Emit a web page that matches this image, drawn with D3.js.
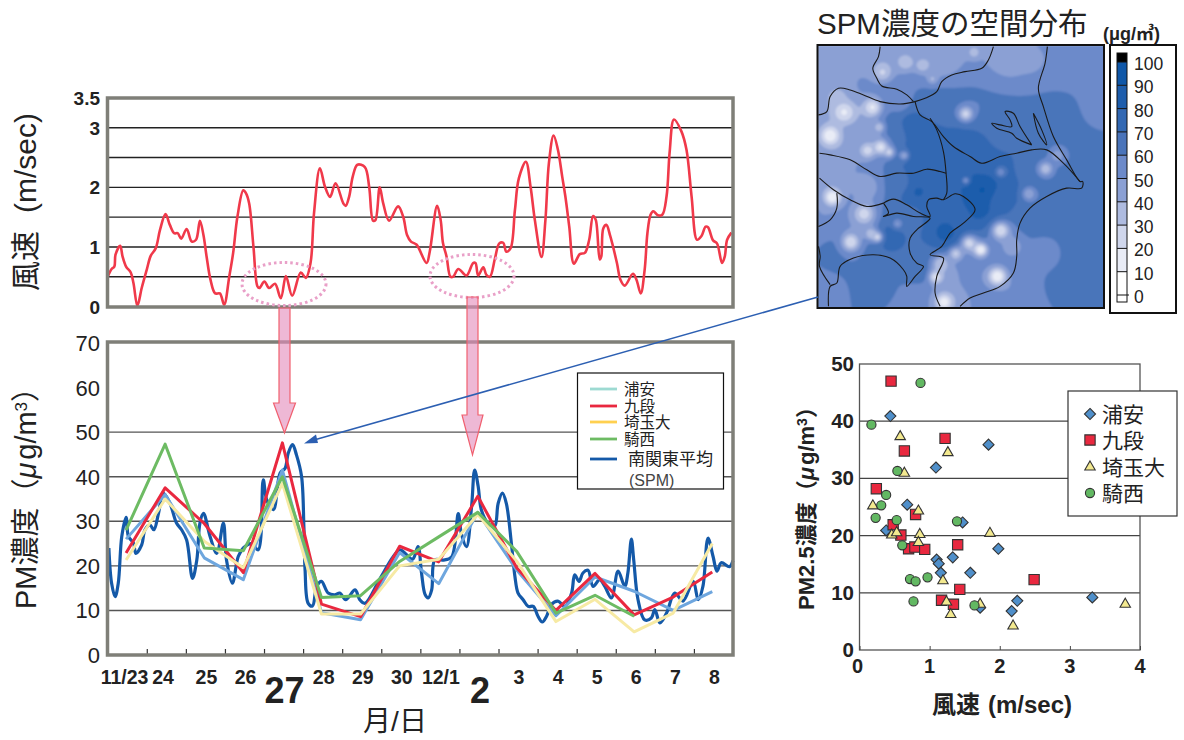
<!DOCTYPE html>
<html><head><meta charset="utf-8">
<script src="https://cdn.jsdelivr.net/npm/d3@7"></script>
<style>
html,body{margin:0;padding:0;background:#fff}
text{font-family:"Liberation Sans","Noto Sans CJK JP",sans-serif;fill:#222}
</style></head><body><svg id="c" width="1184" height="740"></svg>
<script>
// ---------- data ----------
const windYTicks=[0,1,2,3,3.5];
const windGrid=[0.5,1,1.5,2,2.5,3];
const windSpeed=[[0,.5],[.1,.63],[.17,.67],[.2,.87],[.32,1.02],[.38,.84],[.47,.67],[.59,.57],[.66,.39],[.76,.01],[.87,.31],[1,.62],[1.1,.85],[1.23,.98],[1.34,1.29],[1.48,1.55],[1.59,1.37],[1.7,1.23],[1.79,1.23],[1.88,1.14],[2.02,1.3],[2.15,1.09],[2.26,1.12],[2.36,1.44],[2.45,1.2],[2.53,.84],[2.63,.45],[2.75,.22],[2.87,.22],[2.98,.03],[3.11,.5],[3.21,.9],[3.32,1.51],[3.47,1.95],[3.54,1.9],[3.62,1.73],[3.73,1],[3.83,.34],[3.88,.31],[4.01,.42],[4.13,.31],[4.28,.38],[4.43,.14],[4.56,.51],[4.72,.18],[4.94,.57],[5.07,.48],[5.19,.73],[5.28,1.57],[5.43,2.32],[5.56,2.01],[5.69,1.84],[5.83,2.07],[6.03,1.73],[6.09,1.69],[6.18,1.85],[6.27,2.18],[6.39,2.38],[6.58,2.34],[6.69,2.01],[6.79,1.44],[6.85,1.45],[6.96,2],[7.05,1.73],[7.2,1.44],[7.43,1.68],[7.56,1.51],[7.66,1.2],[7.76,1.09],[7.9,1.04],[8.16,.73],[8.24,.92],[8.43,1.69],[8.52,1.45],[8.58,1.06],[8.67,.84],[8.77,.5],[8.84,.5],[8.97,.63],[9.18,.52],[9.35,.73],[9.41,.73],[9.48,.52],[9.61,.66],[9.69,.53],[9.78,.5],[9.91,.81],[10.02,1.06],[10.12,1.07],[10.2,.92],[10.31,.98],[10.42,1.62],[10.52,2.15],[10.7,2.43],[10.82,2.01],[10.93,1.45],[11.1,.83],[11.2,1.45],[11.29,2.41],[11.41,2.87],[11.52,2.63],[11.63,2.18],[11.71,1.85],[11.81,1.34],[11.93,.72],[12.08,.88],[12.21,.9],[12.32,1.12],[12.42,1.52],[12.49,1.45],[12.59,.79],[12.63,.84],[12.68,1.31],[12.76,1.37],[12.86,1.18],[13.03,.73],[13.12,.45],[13.23,.35],[13.44,.55],[13.53,.45],[13.64,.22],[13.74,.62],[13.81,1.23],[13.89,1.54],[13.96,1.6],[14.08,1.53],[14.19,1.54],[14.3,1.85],[14.38,2.6],[14.49,3.14],[14.68,2.94],[14.81,2.63],[14.94,1.85],[15.08,1.12],[15.19,1.18],[15.3,1.34],[15.36,1.33],[15.49,1.11],[15.59,1.06],[15.72,.73],[15.79,.84],[15.85,1.12],[15.96,1.24]];

const pmTicks=[0,10,20,30,40,50,60,70];
const dayLabels=["11/23","24","25","26","27","28","29","30","12/1","2","3","4","5","6","7","8"];
const bigDays=["27","2"];
const urayasu=[26,36,21.8,16.9,41.5,9.5,7.9,23,16,32,19,8.8,17.5,14.3,10,14.2];
const kudan=[22.9,37.5,29.5,18.5,47.6,11.4,8.6,24.4,20.9,35.6,19.5,10,18.3,9,13,18.6];
const saitama=[21.3,35,25.5,19.6,38.5,9.2,9.2,20,21.5,31.5,21,7.5,12.5,5.2,9.4,25];
const kisai=[28,47.3,24,23.4,40,12.9,13.3,21,26.5,32,23.2,9.4,13.4,8.7];
const spmAvg=[[.03,24],[.1,16.1],[.19,13.1],[.27,16.1],[.36,26.6],[.47,30.9],[.53,26.6],[.66,25.1],[.72,22.8],[.87,24.7],[.95,28],[1.08,29.2],[1.18,28.1],[1.3,31.8],[1.42,36.3],[1.59,34.1],[1.76,29.6],[1.89,28.1],[2.02,25.8],[2.17,17.2],[2.28,21.3],[2.36,29.6],[2.45,31.8],[2.62,26.6],[2.79,22.8],[2.96,29.6],[3.04,21.3],[3.19,16.1],[3.34,22.1],[3.47,24],[3.68,25],[3.85,23.6],[3.98,39.3],[4.07,34.8],[4.24,32.6],[4.41,40.8],[4.54,41.9],[4.62,45.3],[4.73,47.2],[4.83,44.9],[4.96,40.1],[5.02,28.8],[5.05,19.1],[5.13,11.6],[5.24,11],[5.35,15.4],[5.47,16.5],[5.64,13.9],[5.81,13.5],[5.94,13.9],[6.09,12.4],[6.33,14.6],[6.45,12.4],[6.58,11.6],[6.96,17],[7.3,22],[7.48,23.6],[7.8,21.5],[7.94,24.3],[8.03,18.4],[8.12,13.6],[8.2,12.8],[8.29,14.6],[8.37,21.3],[8.58,21.3],[8.8,22],[8.97,31.7],[9.05,27.2],[9.18,24.3],[9.31,33.2],[9.39,41.5],[9.48,37.8],[9.56,32.6],[9.73,29.6],[9.9,28.9],[9.99,34],[10.1,36.3],[10.2,34],[10.33,25],[10.42,17.6],[10.5,13.9],[10.63,12.4],[10.76,10.9],[10.89,10.9],[11.01,8.7],[11.12,7.4],[11.23,8.7],[11.35,11.3],[11.52,12.1],[11.7,10.9],[11.87,13.9],[11.95,18],[12.06,16.5],[12.16,18.4],[12.29,19],[12.42,15.4],[12.59,16.9],[12.72,15.4],[12.89,12.8],[13.06,18.8],[13.23,15.4],[13.31,18.4],[13.4,26],[13.46,21.3],[13.57,12.4],[13.74,7.9],[13.91,8.3],[14,10.2],[14.13,7.2],[14.3,9.4],[14.51,13.9],[14.72,12.1],[14.98,16.5],[15.11,12.4],[15.23,15.4],[15.36,26.2],[15.49,22.1],[15.59,18.8],[15.7,20.7],[15.91,19.8],[16,21.2]];
const lineNames=["浦安","九段","埼玉大","騎西","南関東平均"];

const scUrayasu=[[.44,40.9],[1.84,35.9],[1.09,31.9],[.68,25.4],[1.47,22.3],[.38,20.9],[1.1,15.8],[1.13,15.1],[1.16,13.5],[1.33,16.2],[1.58,13.5],[1.98,17.7],[2.25,8.6],[2.17,6.8],[3.32,9.2],[1.72,7.4]];
const scKudan=[[.45,47],[1.22,37],[.64,34.8],[.24,28.2],[.8,23.7],[.48,21.9],[.59,20.1],[.7,17.7],[.79,18],[.93,17.6],[1.4,18.4],[2.49,12.3],[1.43,10.6],[1.17,8.7],[1.34,8]];
const scSaitama=[[.58,37.3],[1.26,34.5],[.64,30.9],[.19,25.2],[.84,24.3],[.46,20.1],[.53,20.5],[.86,20.2],[.84,18.8],[1.86,20.4],[1.19,12.1],[1.24,8.4],[1.3,6.2],[1.72,8],[2.19,4.2],[3.79,8]];
const scKisai=[[.87,46.7],[.17,39.4],[.54,31.3],[.38,27.1],[.31,25.3],[.23,23.1],[.53,22.7],[1.39,22.5],[.61,18.3],[.72,12.4],[.8,12],[.97,12.7],[.77,8.5],[1.64,7.8]];
const scXTicks=[0,1,2,3,4];
const scYTicks=[0,10,20,30,40,50];

const mapLevels=[0,10,20,30,40,50,60,70,80,90,100];
const mapColors=["#ffffff","#e9ecf6","#cfd6ec","#aebbe0","#8ba0d4","#6c8aca","#4a74ba","#3268b3","#1d5dac","#0f57a8","#0b55a5"];
// broad background level of the map
const mapBase=[[80,170,46],[250,170,44],[420,170,42],[620,170,44],[800,170,50],[895,150,55],[890,300,58],[780,330,62],[550,300,60],[420,320,62],[300,310,56],[80,310,44],[180,350,45],[890,480,60],[890,620,62],[880,780,64],[780,860,62],[720,760,58],[650,890,50],[120,450,44],[60,520,44],[200,560,46],
[370,480,80],[330,365,76],[375,410,78],[395,540,80],[350,575,82],[545,570,92],[530,620,86],[435,695,84],[270,710,74],[345,810,70],[470,500,80],[600,600,74],[480,430,72],[300,550,66],[270,380,64],[600,420,68],[700,500,66],[760,600,60],[400,620,76],[480,650,76],[330,650,64],[560,480,76],[680,660,62],
[220,420,48],[100,755,62],[60,650,50],[180,660,50],[150,820,60],[250,860,62],[60,870,58],[340,890,52],[530,830,52],[620,720,54],[520,760,54],[430,820,44],[440,900,42]];
// compact low-concentration spots on the map: x, y, value, spread
const mapLows=[[315,185,32,18],[245,215,28,18],[365,195,34,16],[520,155,34,14],[690,180,42,22],[395,235,38,11],[130,335,18,24],[215,320,18,19],[110,290,34,19],[88,405,10,21],[235,380,30,11],[200,450,24,16],[240,440,18,14],[265,455,26,11],[310,465,42,10],[495,340,25,16],[735,505,32,16],[770,465,44,18],[685,580,40,14],[600,515,52,11],[495,540,48,8],[95,590,10,18],[190,640,24,21],[150,725,20,19],[210,700,30,13],[230,710,25,11],[290,670,48,10],[600,690,20,18],[505,728,24,16],[540,748,10,14],[465,760,28,14],[635,740,40,19],[590,828,10,19],[405,830,18,13],[430,905,12,16],[420,790,30,16]];
const mapLines=[
[[240,140],[235,170],[218,205],[230,235],[245,258],[290,268],[320,285],[340,305]],
[[580,140],[565,180],[545,205],[495,215],[455,225],[425,245],[410,275],[375,295],[345,305]],
[[742,140],[735,190],[715,265],[730,320],[760,410],[800,480],[840,545],[848,545],[845,565],[800,565],[740,590],[690,625],[660,670],[650,720],[650,770],[640,820],[600,860],[550,880],[510,895],[480,920]],
[[55,345],[80,335],[90,290],[115,265],[150,270],[190,285],[240,305],[300,312],[345,305]],
[[345,305],[360,345],[395,365],[430,410],[460,440],[510,470],[545,490],[600,470],[650,460],[695,450],[740,450],[790,490],[840,545]],
[[695,435],[660,380],[640,340],[615,335],[630,360],[635,380],[600,375],[575,370],[590,385],[635,400],[650,415],[695,435]],
[[700,340],[715,400],[740,435],[725,390],[700,340]],
[[390,355],[410,390],[430,455],[438,520],[440,580],[430,600]],
[[58,460],[90,465],[150,480],[200,510],[240,530],[290,520],[340,520],[380,508],[420,515],[438,520]],
[[250,610],[280,598],[320,615],[360,640],[390,650],[380,620],[385,600],[410,595],[430,600],[465,582],[490,590],[525,630],[490,670],[450,700],[425,740],[390,765],[430,775],[410,830],[405,880],[420,920]],
[[250,610],[265,640],[250,650],[290,640],[340,650],[390,655],[350,690],[330,715],[330,760],[350,790],[370,800],[345,830],[320,860],[320,830],[310,810],[270,775],[220,765],[160,775],[120,800],[110,850],[90,860],[85,920]],
[[58,535],[100,570],[150,600],[200,620],[250,610]],
[[110,580],[110,625],[90,660],[55,680]],
[[55,740],[60,770],[58,800],[90,855]]];

// ---------- layout ----------
const svg=d3.select("#c");
const FRAME="#7f7f78";
const x=d3.scaleLinear().domain([0,16]).range([107.7,733]);
const yW=d3.scaleLinear().domain([0,3.5]).range([306.5,98]);
const yP=d3.scaleLinear().domain([0,70]).range([655,343]);
const curve=d3.curveCatmullRom.alpha(.5);
function rotText(tx,ty,size,weight){
  return svg.append("text").attr("transform",`translate(${tx},${ty}) rotate(-90)`).attr("text-anchor","middle")
    .style("font-size",size+"px").style("font-weight",weight||"normal");
}

// map
const mx=d3.scaleLinear().domain([52,912]).range([817.5,1104]);
const my=d3.scaleLinear().domain([135,925]).range([45,308]);
const gw=216,gh=198;
const field=new Float64Array(gw*gh);
for(let j=0;j<gh;j++)for(let i=0;i<gw;i++){
  const ux=52+860*i/(gw-1),uy=135+790*j/(gh-1);let s=0,w=0;
  for(const p of mapBase){const d=(ux-p[0])**2+(uy-p[1])**2+400;const k=1/(d*Math.sqrt(d));s+=k*p[2];w+=k;}
  let v=s/w;
  for(const q of mapLows){const d=(ux-q[0])**2+(uy-q[1])**2;const g=Math.exp(-d/(2*q[3]*q[3]));if(v>q[2])v-=(v-q[2])*g;}
  field[j*gw+i]=v;
}
const contours=d3.contours().size([gw,gh]).thresholds(mapLevels)(field);
const defs=svg.append("defs");
defs.append("clipPath").attr("id","mc").append("rect").attr("x",817.5).attr("y",45).attr("width",286.5).attr("height",263);
defs.append("filter").attr("id","soft").append("feGaussianBlur").attr("stdDeviation",.8);
const tr=d3.geoTransform({point(a,b){this.stream.point(817.5+a*286.5/(gw-1),45+b*263/(gh-1));}});
const mapG=svg.append("g").attr("clip-path","url(#mc)");
const mapFill=mapG.append("g").attr("filter","url(#soft)");
mapFill.append("rect").attr("x",817.5).attr("y",45).attr("width",286.5).attr("height",263).attr("fill",mapColors[4]);
mapFill.selectAll("path").data(contours).join("path").attr("d",d3.geoPath(tr)).attr("fill",(d,i)=>mapColors[i]);
const mLine=d3.line().x(d=>mx(d[0])).y(d=>my(d[1])).curve(d3.curveCatmullRom.alpha(.5));
mapG.selectAll("path.b").data(mapLines).join("path").attr("class","b").attr("d",mLine).attr("fill","none").attr("stroke","#1a1a1a").attr("stroke-width",1.1);
svg.append("rect").attr("x",817.5).attr("y",45).attr("width",286.5).attr("height",263).attr("fill","none").attr("stroke","#111").attr("stroke-width",2);
svg.append("text").attr("x",817).attr("y",34).style("font-size","29.5px").text("SPM濃度の空間分布");
svg.append("text").attr("x",1103).attr("y",40).style("font-size","18px").style("font-weight","bold").text("(μg/㎥)");
// colour bar
svg.append("rect").attr("x",1110).attr("y",45).attr("width",66).attr("height",268).attr("fill","#fff").attr("stroke","#111").attr("stroke-width",2);
const yC=d3.scaleLinear().domain([0,100]).range([295,62]);
const barG=svg.append("g");
barG.selectAll("rect").data(mapLevels.slice(0,10)).join("rect").attr("x",1117).attr("width",10)
  .attr("y",d=>yC(d+10)).attr("height",d=>yC(d)-yC(d+10)).attr("fill",(d,i)=>mapColors[i]);
barG.append("rect").attr("x",1117).attr("width",10).attr("y",53).attr("height",yC(100)-53).attr("fill","#000");
barG.append("rect").attr("x",1117).attr("width",10).attr("y",yC(0)).attr("height",7).attr("fill","#fff");
barG.selectAll("line").data(mapLevels).join("line").attr("x1",1117).attr("x2",d=>d==0?1129:1127).attr("y1",yC).attr("y2",yC).attr("stroke","#111").attr("stroke-width",1);
barG.append("rect").attr("x",1117).attr("width",10).attr("y",53).attr("height",249).attr("fill","none").attr("stroke","#111").attr("stroke-width",1);
svg.append("g").selectAll("text").data(mapLevels).join("text").attr("x",1134).attr("y",d=>yC(d)+8).style("font-size","17.5px").text(d=>d);

// wind
const gW=svg.append("g");
gW.append("g").selectAll("line").data(windGrid).join("line").attr("x1",x(0)).attr("x2",x(16)).attr("y1",yW).attr("y2",yW).attr("stroke","#222").attr("stroke-width",1.4);
gW.append("path").datum(windSpeed).attr("fill","none").attr("stroke","#f0394a").attr("stroke-width",2.6)
  .attr("d",d3.line().x(d=>x(d[0])).y(d=>yW(d[1])).curve(curve));
gW.append("rect").attr("x",107.5).attr("y",98).attr("width",625.5).attr("height",209).attr("fill","none").attr("stroke",FRAME).attr("stroke-width",3.5);
gW.append("g").selectAll("text").data(windYTicks).join("text").attr("x",100).attr("y",d=>yW(d)+7).attr("text-anchor","end")
  .style("font-size","19px").style("font-weight","bold").text(d=>d);
const wLab=rotText(36,202,30);
wLab.append("tspan").text("風速");
wLab.append("tspan").attr("dx",18).text("(m/sec)");

// pm
const gP=svg.append("g");
gP.append("g").selectAll("line").data(pmTicks.slice(1,6)).join("line").attr("x1",x(0)).attr("x2",x(16)).attr("y1",yP).attr("y2",yP).attr("stroke","#555").attr("stroke-width",1.4);
const lineS=d3.line().x(d=>x(d[0])).y(d=>yP(d[1])).curve(curve);
const lineD=d3.line().x((d,i)=>x(i+.47)).y(d=>yP(d));
gP.append("path").datum(spmAvg).attr("fill","none").attr("stroke","#1459a8").attr("stroke-width",3.2).attr("d",lineS);
[[urayasu,"#6ea6de"],[kudan,"#e9283f"],[saitama,"#f7eaa4"],[kisai,"#6dbb63"]].forEach(([s,c])=>{
  gP.append("path").datum(s).attr("fill","none").attr("stroke",c).attr("stroke-width",3).attr("stroke-linejoin","round").attr("d",lineD);
});
const axisP=d3.axisBottom(x).tickValues(d3.range(1,16)).tickSize(-6).tickFormat("");
const gAx=gP.append("g").attr("transform","translate(0,655)").call(axisP);
gAx.select(".domain").remove();gAx.selectAll("line").attr("stroke","#333").attr("stroke-width",1.2);
gP.append("rect").attr("x",107.5).attr("y",342).attr("width",625.5).attr("height",313).attr("fill","none").attr("stroke",FRAME).attr("stroke-width",3.5);
gP.append("g").selectAll("text").data(pmTicks).join("text").attr("x",100).attr("y",d=>yP(d)+8).attr("text-anchor","end").style("font-size","22px").text(d=>d);
gP.append("g").selectAll("text").data(dayLabels).join("text")
  .attr("x",(d,i)=>i==0?124.5:i==1?163:(x(i+.5)+1)).attr("y",d=>bigDays.includes(d)?703:684).attr("text-anchor","middle")
  .style("font-size",d=>bigDays.includes(d)?"36px":"19.5px").style("font-weight","bold").text(d=>d);
svg.append("text").attr("x",395).attr("y",731).attr("text-anchor","middle").style("font-size","28px").text("月/日");
const pmLab=rotText(36,491,29);
pmLab.append("tspan").text("PM濃度（");
pmLab.append("tspan").style("font-style","italic").text("μ");
pmLab.append("tspan").attr("dx",3).text("g/m");
pmLab.append("tspan").attr("dy",-9).style("font-size","17px").text("3");
pmLab.append("tspan").attr("dy",9).text("）");

// legend mid
const lg=svg.append("g");
lg.append("rect").attr("x",577.5).attr("y",373).attr("width",146).attr("height",116).attr("fill","#fff").attr("stroke","#111").attr("stroke-width",1.2);
const lgY=[389,406,422,439,459],lgC=["#9ddad2","#e9283f","#ffd04f","#6dbb63","#1459a8"];
lg.selectAll("line").data(lineNames).join("line").attr("x1",590).attr("x2",617).attr("y1",(d,i)=>lgY[i]).attr("y2",(d,i)=>lgY[i]).attr("stroke",(d,i)=>lgC[i]).attr("stroke-width",2.8);
lg.selectAll("text.n").data(lineNames).join("text").attr("class","n").attr("x",(d,i)=>i==4?628:624).attr("y",(d,i)=>lgY[i]+5.5).style("font-size",(d,i)=>i==4?"17px":"15.5px").text(d=>d);
lg.append("text").attr("x",629).attr("y",486).style("font-size","16px").style("fill","#444").text("(SPM)");

// ellipses & arrows
svg.selectAll("ellipse").data([[284,284],[472,276]]).join("ellipse").attr("cx",d=>d[0]).attr("cy",d=>d[1]).attr("rx",42).attr("ry",21.5)
  .attr("fill","none").attr("stroke","#e9a0c8").attr("stroke-width",3).attr("stroke-dasharray","2.5 3");
function arrow(cx,y0,yh,tip,hw){
  const s=5.5;
  svg.append("path").attr("d",`M${cx-s},${y0}V${yh}H${cx-hw}L${cx},${tip}L${cx+hw},${yh}H${cx+s}V${y0}Z`)
    .attr("fill","#e48cbc").attr("fill-opacity",.62).attr("stroke","#f0606f").attr("stroke-width",1.2);
}
arrow(284.5,308,403,433,11);arrow(472.5,297,415,455,10.5);
svg.append("line").attr("x1",818).attr("y1",297).attr("x2",314).attr("y2",440).attr("stroke","#2c5fb2").attr("stroke-width",1.5);
svg.append("path").attr("d","M304,443.5L316,434.5L318,443Z").attr("fill","#2c5fb2");

// scatter
const sx=d3.scaleLinear().domain([0,4]).range([859.5,1140]);
const sy=d3.scaleLinear().domain([0,50]).range([650,364]);
const gS=svg.append("g");
gS.append("g").selectAll("line").data([10,20,30,40]).join("line").attr("x1",sx(0)).attr("x2",sx(4)).attr("y1",sy).attr("y2",sy).attr("stroke","#444").attr("stroke-width",1.3);
gS.append("rect").attr("x",sx(0)).attr("y",sy(50)).attr("width",sx(4)-sx(0)).attr("height",sy(0)-sy(50)).attr("fill","none").attr("stroke","#555").attr("stroke-width",1.3);
const xAxS=d3.axisBottom(sx).tickValues(scXTicks).tickSize(-4).tickFormat("");
const gx=gS.append("g").attr("transform",`translate(0,${sy(0)})`).call(xAxS);gx.select(".domain").remove();gx.selectAll("line").attr("stroke","#444");
gS.append("g").selectAll("text").data(scXTicks).join("text").attr("x",d=>sx(d)-(d==0?2:0)).attr("y",673).attr("text-anchor","middle").style("font-size","20px").style("font-weight","bold").text(d=>d);
gS.append("g").selectAll("text").data(scYTicks).join("text").attr("x",854).attr("y",d=>sy(d)+7).attr("text-anchor","end").style("font-size","20.5px").style("font-weight","bold").text(d=>d);
const sym={d:d3.symbol().type(d3.symbolDiamond2).size(78)(),s:d3.symbol().type(d3.symbolSquare2).size(135)(),t:d3.symbol().type(d3.symbolTriangle2).size(78)(),c:d3.symbol().type(d3.symbolCircle).size(66)()};
const scSeries=[[scUrayasu,sym.d,"#4f8fca"],[scKudan,sym.s,"#e9283f"],[scSaitama,sym.t,"#f3e98f"],[scKisai,sym.c,"#62b862"]];
scSeries.forEach(([s,p,c])=>{
  gS.append("g").selectAll("path").data(s).join("path").attr("d",p).attr("transform",d=>`translate(${sx(d[0])},${sy(d[1])})`)
    .attr("fill",c).attr("stroke","#333").attr("stroke-width",1.1);
});
const slg=svg.append("g");
slg.append("rect").attr("x",1068).attr("y",391).attr("width",109).attr("height",125).attr("fill","#fff").attr("stroke","#333").attr("stroke-width",1.2);
const slY=[414,440,467,493],slN=lineNames.slice(0,4);
slg.selectAll("path").data(scSeries).join("path").attr("d",d=>d[1]).attr("transform",(d,i)=>`translate(1090,${slY[i]})`).attr("fill",d=>d[2]).attr("stroke","#333").attr("stroke-width",1.1);
slg.selectAll("text").data(slN).join("text").attr("x",1102).attr("y",(d,i)=>slY[i]+8).style("font-size","21px").text(d=>d);
const sLab=rotText(814,503,22,"bold");
sLab.append("tspan").text("PM2.5濃度（");
sLab.append("tspan").style("font-style","italic").text("μ");
sLab.append("tspan").attr("dx",2).text("g/m");
sLab.append("tspan").attr("dy",-7).style("font-size","14px").text("3");
sLab.append("tspan").attr("dy",7).text("）");
const sxLab=svg.append("text").attr("x",1002).attr("y",713).attr("text-anchor","middle").style("font-size","24px").style("font-weight","bold");
sxLab.append("tspan").text("風速");
sxLab.append("tspan").attr("dx",8).text("(m/sec)");
</script></body></html>
